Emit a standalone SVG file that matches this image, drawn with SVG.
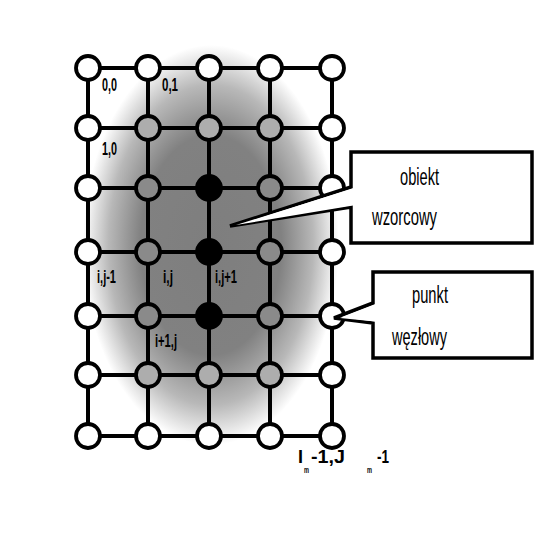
<svg xmlns="http://www.w3.org/2000/svg" width="542" height="550" viewBox="0 0 542 550">
<style>
.ln{stroke:#000;stroke-width:4;fill:none}
.n{stroke:#000;stroke-width:3.8}
.w{fill:#fff}.g{fill:#adadad}.d{fill:#8a8a8a}.b{fill:#000}
.lb{font-family:"Liberation Sans",Arial,sans-serif;font-weight:bold;font-size:19px;fill:#000}
.sb{font-family:"Liberation Sans",Arial,sans-serif;font-weight:bold;font-size:9px;fill:#000}
.bx{fill:#fff;stroke:#000;stroke-width:3.5}
.ct{font-family:"Liberation Sans",Arial,sans-serif;font-size:23px;fill:#000}
</style>
<defs>
<radialGradient id="blob">
<stop offset="0" stop-color="#7e7e7e"/>
<stop offset="0.55" stop-color="#818181"/>
<stop offset="0.8" stop-color="#b8b8b8"/>
<stop offset="1" stop-color="#ffffff"/>
</radialGradient>
</defs>
<rect width="542" height="550" fill="#fff"/>
<ellipse cx="211" cy="245" rx="128" ry="200" fill="url(#blob)"/>
<g id="connectors">
<path class="ln" d="M88 68H332M88 128H332M88 188H332M88 252H332M88 316H332M88 375H332M88 436H332"/>
<path class="ln" d="M88 68V436M148 68V436M209 68V436M270 68V436M332 68V436"/>
</g>
<g id="nodes">
<g id="r0"><circle class="n w" cx="88" cy="68" r="12"/><circle class="n w" cx="148" cy="68" r="12"/><circle class="n w" cx="209" cy="68" r="12"/><circle class="n w" cx="270" cy="68" r="12"/><circle class="n w" cx="332" cy="68" r="12"/></g>
<g id="r1"><circle class="n w" cx="88" cy="128" r="12"/><circle class="n g" cx="148" cy="128" r="12"/><circle class="n g" cx="209" cy="128" r="12"/><circle class="n g" cx="270" cy="128" r="12"/><circle class="n w" cx="332" cy="128" r="12"/></g>
<g id="r2"><circle class="n w" cx="88" cy="188" r="12"/><circle class="n d" cx="148" cy="188" r="12"/><circle class="n b" cx="209" cy="188" r="12"/><circle class="n d" cx="270" cy="188" r="12"/><circle class="n w" cx="332" cy="188" r="12"/></g>
<g id="r3"><circle class="n w" cx="88" cy="252" r="12"/><circle class="n d" cx="148" cy="252" r="12"/><circle class="n b" cx="209" cy="252" r="12"/><circle class="n d" cx="270" cy="252" r="12"/><circle class="n w" cx="332" cy="252" r="12"/></g>
<g id="r4"><circle class="n w" cx="88" cy="316" r="12"/><circle class="n d" cx="148" cy="316" r="12"/><circle class="n b" cx="209" cy="316" r="12"/><circle class="n d" cx="270" cy="316" r="12"/><circle class="n w" cx="332" cy="316" r="12"/></g>
<g id="r5"><circle class="n w" cx="88" cy="375" r="12"/><circle class="n g" cx="148" cy="375" r="12"/><circle class="n g" cx="209" cy="375" r="12"/><circle class="n g" cx="270" cy="375" r="12"/><circle class="n w" cx="332" cy="375" r="12"/></g>
<g id="r6"><circle class="n w" cx="88" cy="436" r="12"/><circle class="n w" cx="148" cy="436" r="12"/><circle class="n w" cx="209" cy="436" r="12"/><circle class="n w" cx="270" cy="436" r="12"/><circle class="n w" cx="332" cy="436" r="12"/></g>
</g>
<g id="labels">
<text class="lb" x="102" y="91" textLength="15" lengthAdjust="spacingAndGlyphs">0,0</text>
<text class="lb" x="162" y="91" textLength="16" lengthAdjust="spacingAndGlyphs">0,1</text>
<text class="lb" x="102" y="155" textLength="15" lengthAdjust="spacingAndGlyphs">1,0</text>
<text class="lb" x="97" y="283" textLength="19" lengthAdjust="spacingAndGlyphs">i,j-1</text>
<text class="lb" x="163" y="283" textLength="10" lengthAdjust="spacingAndGlyphs">i,j</text>
<text class="lb" x="215" y="283" textLength="22" lengthAdjust="spacingAndGlyphs">i,j+1</text>
<text class="lb" x="155" y="347" textLength="22" lengthAdjust="spacingAndGlyphs">i+1,j</text>
<text class="lb" x="298" y="463" textLength="5" lengthAdjust="spacingAndGlyphs">I</text>
<text class="sb" x="304" y="473" textLength="5" lengthAdjust="spacingAndGlyphs">m</text>
<text class="lb" x="311" y="463" textLength="34" lengthAdjust="spacingAndGlyphs">-1,J</text>
<text class="sb" x="367" y="473" textLength="5" lengthAdjust="spacingAndGlyphs">m</text>
<text class="lb" x="377" y="463" textLength="12" lengthAdjust="spacingAndGlyphs">-1</text>
</g>
<g id="callout-obiekt">
<path class="bx" d="M351 187V152H532V243H351V207L230 226Z"/>
<path d="M353 188.5L353 205.5L236 225Z" fill="#fff"/>
<text class="ct" x="400" y="185" textLength="39" lengthAdjust="spacingAndGlyphs">obiekt</text>
<text class="ct" x="372" y="225" textLength="65" lengthAdjust="spacingAndGlyphs">wzorcowy</text>
</g>
<g id="callout-punkt">
<path class="bx" d="M373 303V272H532V358H373V323L334 318Z"/>
<path d="M375 304.5L375 321.5L340 318Z" fill="#fff"/>
<text class="ct" x="412" y="303" textLength="36" lengthAdjust="spacingAndGlyphs">punkt</text>
<text class="ct" x="392" y="345" textLength="55" lengthAdjust="spacingAndGlyphs">węzłowy</text>
</g>
</svg>
